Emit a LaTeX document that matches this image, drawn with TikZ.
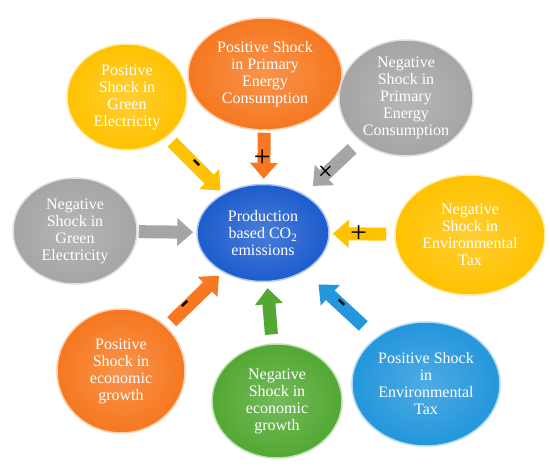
\documentclass[tikz,border=0pt]{standalone}
\usepackage{fontspec}
\setmainfont{Liberation Serif}
\usetikzlibrary{shapes.geometric, arrows.meta}
\definecolor{shockYellow}{RGB}{255,194,0}
\definecolor{shockOrange}{RGB}{246,120,32}
\definecolor{shockGray}{RGB}{165,165,165}
\definecolor{shockBlue}{RGB}{35,150,220}
\definecolor{shockGreen}{RGB}{82,168,50}
\definecolor{coreBlue}{RGB}{28,92,205}

\begin{document}
\begin{tikzpicture}[x=1pt, y=-1pt,
    bubble/.style={ellipse, inner sep=0pt, align=center, text=white,
      font=\fontsize{16}{17}\selectfont, draw=#1!35!white, line width=1.5pt,
      inner color=#1!80!white, outer color=#1},
    flow/.style={draw=#1, line width=13pt, -{Triangle[width=27pt, length=16pt]}},
    sign/.style={midway, sloped, text=black, inner sep=0pt,
      font=\fontsize{30}{30}\selectfont}]
  \useasboundingbox (0,0) rectangle (550,470);

  % Centre: the emissions
  \node[bubble=coreBlue, minimum width=132pt, minimum height=97pt] (co2) at (263,233)
    {Production\\based CO\textsubscript{2}\\emissions};

  % Shocks round the centre
  \node[bubble=shockYellow, minimum width=120pt, minimum height=106pt] (ge) at (127,97)
    {Positive\\Shock in\\Green\\Electricity};
  \node[bubble=shockOrange, minimum width=154pt, minimum height=112pt] (pec) at (265,74)
    {Positive Shock\\in Primary\\Energy\\Consumption};
  \node[bubble=shockGray, minimum width=134pt, minimum height=116pt] (npec) at (406,98)
    {Negative\\Shock in\\Primary\\Energy\\Consumption};
  \node[bubble=shockYellow, minimum width=150pt, minimum height=120pt] (net) at (470,235)
    {Negative\\Shock in\\Environmental\\Tax};
  \node[bubble=shockGray, minimum width=124pt, minimum height=106pt] (nge) at (75,231)
    {Negative\\Shock in\\Green\\Electricity};
  \node[bubble=shockOrange, minimum width=128pt, minimum height=124pt] (peg) at (121,371)
    {Positive\\Shock in\\economic\\growth};
  \node[bubble=shockGreen, minimum width=130pt, minimum height=114pt] (neg) at (277,401)
    {Negative\\Shock in\\economic\\growth};
  \node[bubble=shockBlue, minimum width=148pt, minimum height=124pt] (pet) at (426,384)
    {Positive Shock\\in\\Environmental\\Tax};

  % Block arrows into the centre
  \draw[flow=shockYellow, shorten <=7pt, shorten >=4pt] (ge) -- node[sign] {\textbf{-}} (co2);
  \draw[flow=shockOrange, shorten <=2pt, shorten >=5pt] (pec) -- node[sign] {+} (co2);
  \draw[flow=shockGray, shorten <=11pt, shorten >=12pt] (npec) -- node[sign, pos=0.6] {+} (co2);
  \draw[flow=shockYellow, shorten <=8pt, shorten >=3pt] (net) -- node[sign, pos=0.55] {+} (co2);
  \draw[flow=shockGray, shorten <=1pt, shorten >=3pt] (nge) -- (co2);
  \draw[flow=shockOrange, shorten <=7pt, shorten >=5pt] (peg) -- node[sign, pos=0.37] {\textbf{-}} (co2);
  \draw[flow=shockGreen, shorten <=9pt, shorten >=6pt] (neg) -- (co2);
  \draw[flow=shockBlue, shorten <=17pt, shorten >=19pt] (pet) -- node[sign] {\textbf{-}} (co2);
\end{tikzpicture}
\end{document}
